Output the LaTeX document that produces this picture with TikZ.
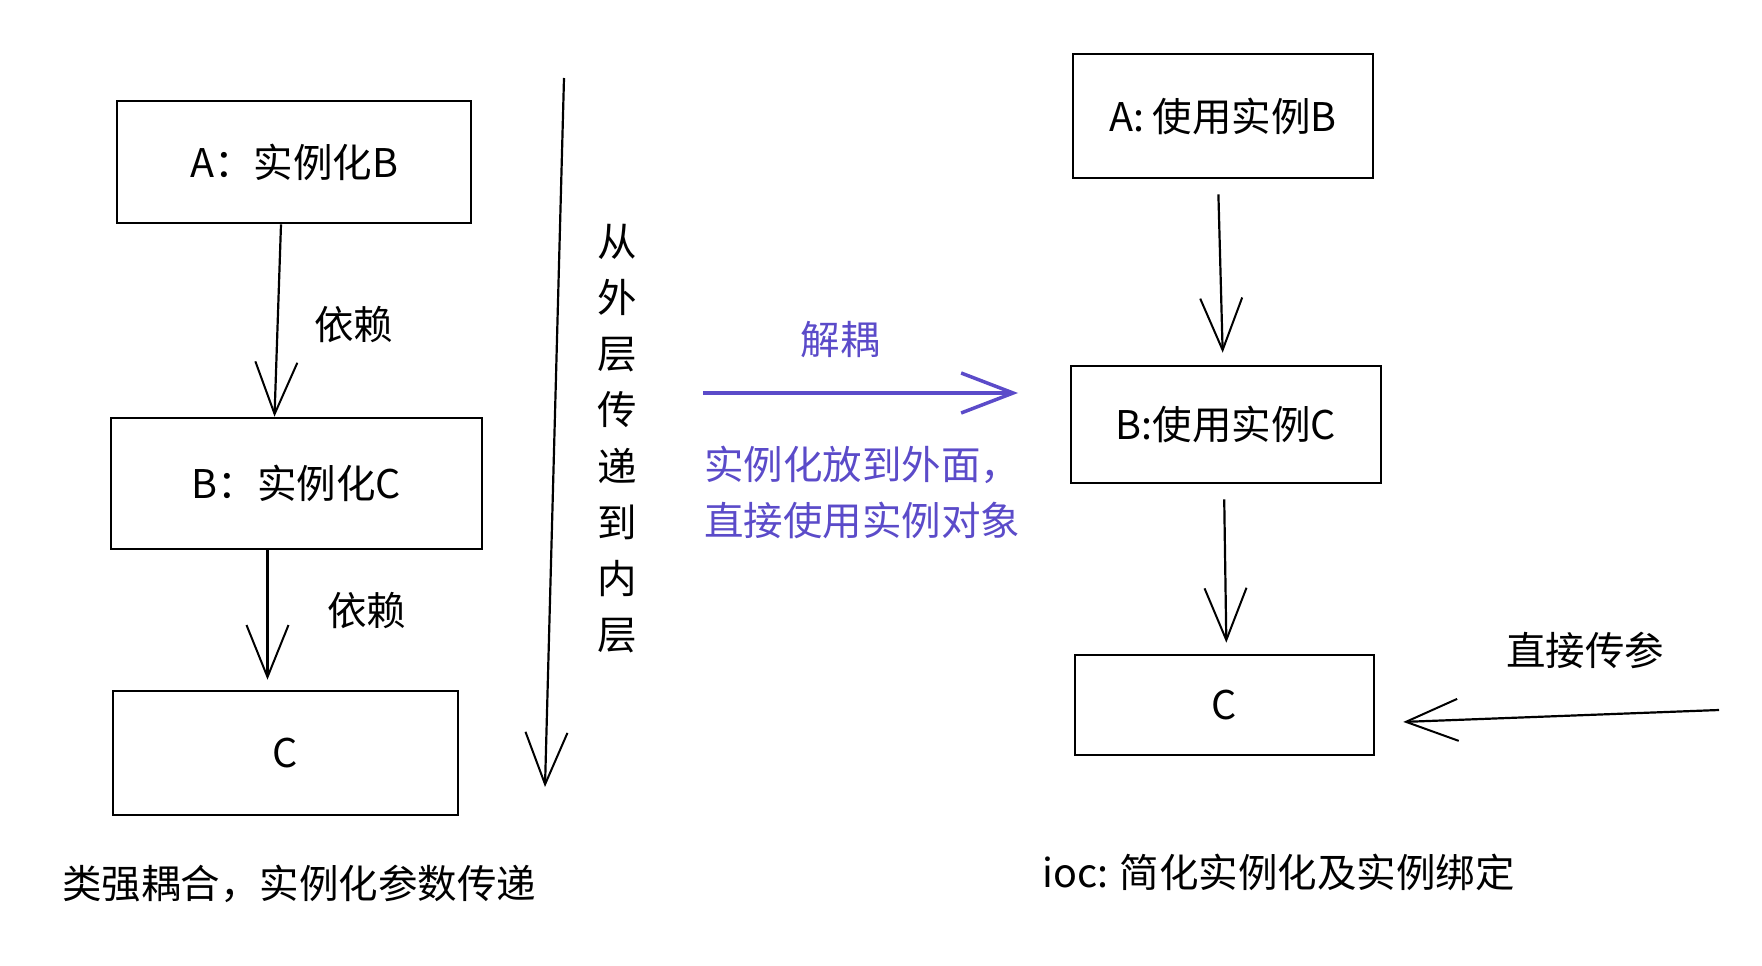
\documentclass[tikz,border=0pt]{standalone}
\usepackage{fontspec}
\setmainfont{Noto Sans CJK SC}
\usetikzlibrary{arrows.meta,positioning,calc}
\definecolor{ioviolet}{HTML}{5B4BC9}

\begin{document}
\begin{tikzpicture}[x=1pt,y=-1pt,
  font=\fontsize{39.5}{46}\selectfont,
  box/.style={draw=black,line width=2.6pt,align=center,inner sep=0pt},
  dep/.style={-{Straight Barb[length=52pt,width=42pt,line width=2pt]},
    draw=black,line width=2.2pt},
  decouple/.style={-{Straight Barb[length=52pt,width=40pt,line width=3.5pt]},
    draw=ioviolet,line width=3.8pt},
  tag/.style={text=black,inner sep=0pt,anchor=west},
  note/.style={text=ioviolet,inner sep=0pt,align=left,anchor=west}]
\useasboundingbox (0,0) rectangle (1762,966);

\node[box,minimum width=354pt,minimum height=122pt] (aL) at (294,162) {A：实例化B};
\node[box,minimum width=371pt,minimum height=131pt] (bL) at (296.5,483.5) {B：实例化C};
\node[box,minimum width=345pt,minimum height=124pt] (cL) at (285.5,753) {C};
\node[box,minimum width=300pt,minimum height=124pt] (aR) at (1223,116) {A: 使用实例B};
\node[box,minimum width=310pt,minimum height=117pt] (bR) at (1226,424.5) {B:使用实例C};
\node[box,minimum width=299pt,minimum height=100pt] (cR) at (1224.5,705) {C};

\draw[dep] ([xshift=-13pt]aL.south)--([xshift=-22pt]bL.north);
\draw[dep,shorten >=10pt] ([xshift=-29pt]bL.south)--([xshift=-18pt]cL.north);
\node[tag] (depA) at (314,325) {依赖};
\node[tag] (depB) at (327,611) {依赖};

\coordinate (flow_top) at (564,78);
\coordinate (flow_end) at (545,787);
\draw[dep] (flow_top)--(flow_end);
\node[inner sep=0pt,align=center,font=\fontsize{39.5}{56.2}\selectfont] (layers) at (617,438.5)
  {从\\外\\层\\传\\递\\到\\内\\层};

\coordinate (dec_start) at (703,393);
\coordinate (dec_end) at (1018,393);
\draw[decouple] (dec_start)--(dec_end);
\node[text=ioviolet,inner sep=0pt] (dec_tag) at (840,340) {解耦};
\node[note,font=\fontsize{39.5}{56}\selectfont] (dec_note) at (704,492)
  {实例化放到外面，\\直接使用实例对象};

\draw[dep,shorten <=15pt,shorten >=12pt] ([xshift=-5pt]aR.south)--([xshift=-3pt]bR.north);
\draw[dep,shorten <=15pt,shorten >=11pt] ([xshift=-2pt]bR.south)--([xshift=2pt]cR.north);

\coordinate (param_in) at (1719,710);
\draw[dep,shorten >=28pt] (param_in)--([yshift=-18pt]cR.east);
\node[tag] (param_tag) at (1506,650) {直接传参};

\node[tag] (left_cap) at (62,884) {类强耦合，实例化参数传递};
\node[tag] (right_cap) at (1042,872) {ioc: 简化实例化及实例绑定};
\end{tikzpicture}
\end{document}
